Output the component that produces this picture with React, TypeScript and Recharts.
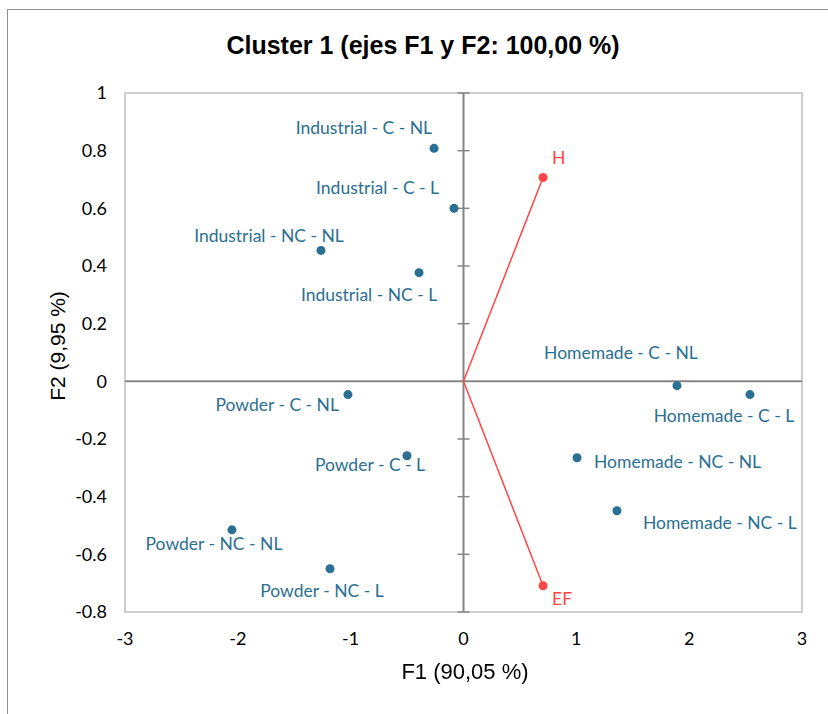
import React from "react";
import {
  ScatterChart,
  Scatter,
  XAxis,
  YAxis,
  ReferenceArea,
  ReferenceLine,
  ReferenceDot,
} from "recharts";

// observations (F1, F2 coordinates)
const obsNames = [
  "Industrial - C - NL",
  "Industrial - C - L",
  "Industrial - NC - NL",
  "Industrial - NC - L",
  "Powder - C - NL",
  "Powder - C - L",
  "Powder - NC - NL",
  "Powder - NC - L",
  "Homemade - C - NL",
  "Homemade - C - L",
  "Homemade - NC - NL",
  "Homemade - NC - L",
];
const obsF1 = [-0.261, -0.084, -1.263, -0.394, -1.024, -0.501, -2.052, -1.183, 1.892, 2.539, 1.006, 1.36];
const obsF2 = [0.808, 0.6, 0.454, 0.377, -0.046, -0.258, -0.515, -0.65, -0.015, -0.046, -0.265, -0.449];

// variables (vectors from origin)
const varNames = ["H", "EF"];
const varF1 = [0.705, 0.705];
const varF2 = [0.707, -0.709];

const xTicks = [-3, -2, -1, 0, 1, 2, 3];
const yTicks = [-0.8, -0.6, -0.4, -0.2, 0, 0.2, 0.4, 0.6, 0.8, 1];

// label placement: [dx, dy, anchor] relative to the point
const obsLabelPos: [number, number, string][] = [
  [-2, -21, "end"],
  [-15, -21, "end"],
  [-52, -15, "middle"],
  [-50, 22, "middle"],
  [-9, 10, "end"],
  [-37, 9, "middle"],
  [-18, 14, "middle"],
  [-8, 22, "middle"],
  [-56, -33, "middle"],
  [-26, 21, "middle"],
  [17, 4, "start"],
  [26, 12, "start"],
];
const varLabelPos: [number, number, string][] = [
  [9, -20, "start"],
  [9, 13, "start"],
];

const BLUE = "#2B6F92";
const RED = "#FF4545";
const FONT = "Lato, 'Liberation Sans', sans-serif";

const obsData = obsNames.map((name, i) => ({ name, x: obsF1[i], y: obsF2[i], pos: obsLabelPos[i] }));
const varData = varNames.map((name, i) => ({ name, x: varF1[i], y: varF2[i], pos: varLabelPos[i] }));

const makeShape = (color: string) => (props: any) => {
  const { cx, cy } = props;
  const p = props.payload || props;
  const [dx, dy, anchor] = p.pos;
  return (
    <g>
      <circle cx={cx} cy={cy} r={4.5} fill={color} />
      <text
        x={cx + dx}
        y={cy + dy}
        textAnchor={anchor}
        dominantBaseline="central"
        fill={color}
        fontFamily={FONT}
        fontSize={17.5}
      >
        {p.name}
      </text>
    </g>
  );
};

const tickMark = (props: any) => (
  <line x1={props.cx - 6} x2={props.cx + 6} y1={props.cy} y2={props.cy} stroke="#868686" strokeWidth={1.5} />
);

export default function App() {
  return (
    <div
      style={{
        position: "fixed",
        left: 7,
        top: 9,
        width: 821,
        height: 705,
        borderTop: "1px solid #8f8f8f",
        borderLeft: "1px solid #8f8f8f",
        boxSizing: "border-box",
        background: "#fff",
      }}
    >
      <div
        style={{
          position: "absolute",
          left: 0,
          top: 23,
          width: 830,
          textAlign: "center",
          fontFamily: "'Liberation Sans', Arial, sans-serif",
          fontWeight: "bold",
          fontSize: 25,
          lineHeight: "25px",
          color: "#000",
        }}
      >
        Cluster 1 (ejes F1 y F2: 100,00 %)
      </div>
      <div style={{ position: "absolute", left: 0, top: 0 }}>
        <ScatterChart width={812} height={700} margin={{ top: 83, right: 18, bottom: 58, left: 47 }}>
          <XAxis
            type="number"
            dataKey="x"
            domain={[-3, 3]}
            ticks={xTicks}
            axisLine={false}
            tickLine={false}
            tickSize={0}
            tickMargin={20}
            height={40}
            tick={{ fill: "#000", fontFamily: FONT, fontSize: 18 }}
            allowDataOverflow
          />
          <YAxis
            type="number"
            dataKey="y"
            domain={[-0.8, 1]}
            ticks={yTicks}
            axisLine={false}
            tickLine={false}
            tickSize={0}
            tickMargin={18}
            width={70}
            tick={{ fill: "#000", fontFamily: FONT, fontSize: 18 }}
            allowDataOverflow
          />
          <ReferenceArea x1={-3} x2={3} y1={-0.8} y2={1} fill="none" stroke="#cfcfcf" strokeWidth={2} />
          <ReferenceLine x={0} stroke="#868686" strokeWidth={2} />
          <ReferenceLine y={0} stroke="#868686" strokeWidth={2} />
          {yTicks
            .filter((t) => t !== 0)
            .map((t) => (
              <ReferenceDot key={t} x={0} y={t} r={0} shape={tickMark} />
            ))}
          {varData.map((v) => (
            <ReferenceLine
              key={v.name}
              segment={[
                { x: 0, y: 0 },
                { x: v.x, y: v.y },
              ]}
              stroke={RED}
              strokeWidth={1.5}
            />
          ))}
          <Scatter data={obsData} shape={makeShape(BLUE)} isAnimationActive={false} />
          <Scatter data={varData} shape={makeShape(RED)} isAnimationActive={false} />
        </ScatterChart>
      </div>
      <div
        style={{
          position: "absolute",
          left: 0,
          top: 651,
          width: 914,
          textAlign: "center",
          fontFamily: "'Liberation Sans', Arial, sans-serif",
          fontSize: 22,
          lineHeight: "22px",
          color: "#000",
        }}
      >
        F1 (90,05 %)
      </div>
      <div
        style={{
          position: "absolute",
          left: 49,
          top: 336,
          transform: "translate(-50%, -50%) rotate(-90deg)",
          whiteSpace: "nowrap",
          fontFamily: "'Liberation Sans', Arial, sans-serif",
          fontSize: 21,
          lineHeight: "21px",
          color: "#000",
        }}
      >
        F2 (9,95 %)
      </div>
    </div>
  );
}
